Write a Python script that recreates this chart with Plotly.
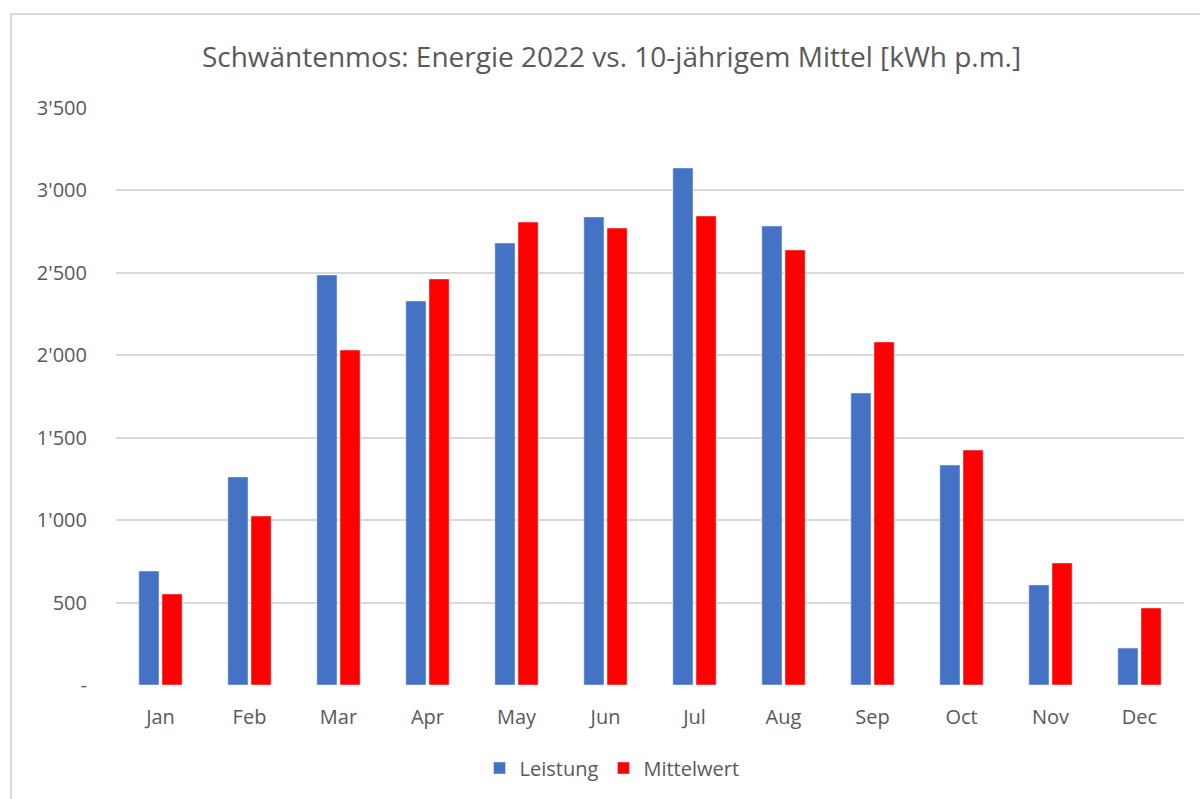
import plotly.graph_objects as go

months = ["Jan", "Feb", "Mar", "Apr", "May", "Jun", "Jul", "Aug", "Sep", "Oct", "Nov", "Dec"]
leistung = [691, 1262, 2487, 2329, 2681, 2839, 3136, 2784, 1771, 1334, 607, 224]
mittelwert = [552, 1025, 2032, 2463, 2808, 2772, 2845, 2639, 2081, 1425, 740, 467]
tick_vals = [0, 500, 1000, 1500, 2000, 2500, 3000, 3500]
tick_text = ["-", "500", "1'000", "1'500", "2'000", "2'500", "3'000", "3'500"]

FONT = "Open Sans"
GREY = "#595959"

fig = go.Figure()
fig.add_trace(go.Bar(x=months, y=leistung, name="Leistung", marker_color="#4472C4"))
fig.add_trace(go.Bar(x=months, y=mittelwert, name="Mittelwert", marker_color="#FF0000"))

fig.update_layout(
    width=1200, height=799,
    margin=dict(l=116, r=16, t=108, b=114),
    paper_bgcolor="white", plot_bgcolor="white",
    barmode="group", bargap=0.48, bargroupgap=0.13,
    font=dict(family=FONT, color=GREY, size=20),
    title=dict(text="Schwäntenmos: Energie 2022 vs. 10-jährigem Mittel [kWh p.m.]",
               x=611.5 / 1200, xanchor="center", xref="container",
               y=1 - 57 / 799, yanchor="middle", yref="container",
               font=dict(size=28, color=GREY, family=FONT)),
    showlegend=True,
    legend=dict(orientation="h", x=(612 - 116) / 1068, xanchor="center",
                y=(685 - 768) / 577, yanchor="middle",
                font=dict(size=20, color=GREY), itemwidth=30, traceorder="normal"),
    xaxis=dict(showgrid=False, zeroline=False, showline=False,
               ticks="", ticklabelstandoff=18, tickfont=dict(size=20, color=GREY)),
    yaxis=dict(range=[0, 3500], tickvals=tick_vals, ticktext=tick_text,
               showgrid=True, gridcolor="#d9d9d9", gridwidth=1.5, zeroline=False,
               showline=False, ticks="", ticklabelstandoff=28,
               tickfont=dict(size=20, color=GREY)),
    shapes=[dict(type="rect", xref="paper", yref="paper",
                 x0=(11 - 116) / 1068, x1=(1210 - 116) / 1068,
                 y0=(685 - 810) / 577, y1=(685 - 14) / 577,
                 line=dict(color="#d9d9d9", width=2), layer="below")],
)

fig.write_html("out.html", config={"displayModeBar": False},
               post_script="document.body.style.margin='0';document.body.style.overflow='hidden';")
